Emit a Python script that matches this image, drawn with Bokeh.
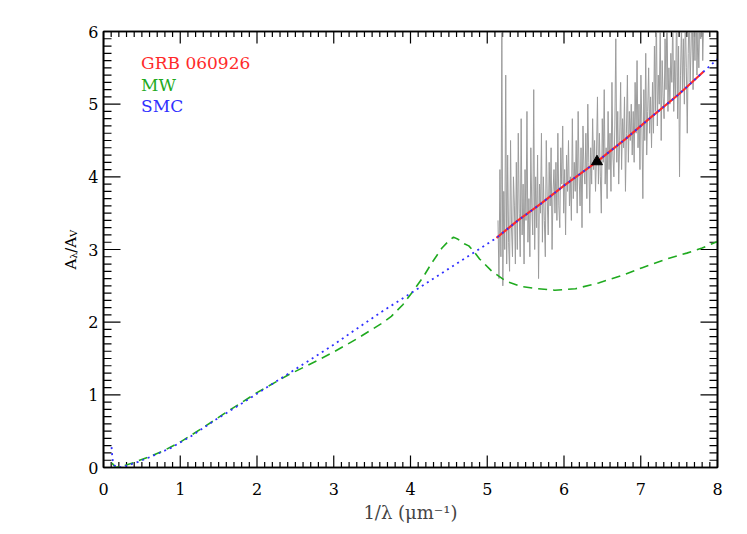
import numpy as np
from bokeh.plotting import figure
from bokeh.layouts import row
from bokeh.models import Range1d, LinearAxis, SingleIntervalTicker, Label, CustomJSTickFormatter
from bokeh.embed import file_html
from bokeh.resources import INLINE

# ---------------- data ----------------
mw_x = [0.11, 0.16, 0.25, 0.4, 0.6, 0.8, 1.0, 1.3, 1.6, 2.0, 2.4, 2.8, 3.0, 3.3, 3.62,
        3.75, 3.9, 4.05, 4.17, 4.28, 4.41, 4.5, 4.56, 4.62, 4.7, 4.76, 4.82, 4.9, 5.06,
        5.25, 5.45, 5.65, 5.88, 6.15, 6.45, 6.75, 7.02, 7.37, 7.6, 7.8, 8.0]
mw_y = [0.06, 0.0, 0.02, 0.07, 0.15, 0.24, 0.35, 0.55, 0.76, 1.03, 1.27, 1.48, 1.59, 1.77, 1.98,
        2.08, 2.24, 2.45, 2.63, 2.82, 3.02, 3.12, 3.17, 3.14, 3.08, 3.05, 2.98, 2.87, 2.70,
        2.56, 2.49, 2.46, 2.44, 2.46, 2.54, 2.64, 2.75, 2.88, 2.95, 3.02, 3.11]

smc_x = [0.105, 0.11, 0.12, 0.14, 0.2, 0.32, 0.46, 0.62, 0.88, 1.14, 1.45, 1.8, 2.14, 2.6,
         3.0, 3.3, 3.62, 4.05, 4.49, 4.8, 5.12, 5.4, 5.7, 6.0, 6.43, 6.8, 7.1, 7.5, 7.82, 8.0]
smc_y = [0.28, 0.2, 0.1, 0.03, 0.0, 0.03, 0.08, 0.15, 0.27, 0.43, 0.65, 0.88, 1.11, 1.42,
         1.69, 1.91, 2.14, 2.43, 2.73, 2.94, 3.16, 3.40, 3.63, 3.88, 4.21, 4.52, 4.79, 5.14, 5.45, 5.62]

fit_x = [5.12, 5.4, 5.7, 6.0, 6.43, 6.8, 7.1, 7.5, 7.82]
fit_y = [3.16, 3.40, 3.63, 3.88, 4.21, 4.52, 4.79, 5.14, 5.45]

grb_x_start = 5.14
grb_x_end = 7.82
grb_y = [
    3.4, 2.6, 4.1, 2.9, 6.0, 2.5, 3.8, 3.0, 5.4, 2.8, 4.3, 3.1, 2.7, 4.5, 3.3, 2.9, 4.0, 3.6, 2.8, 4.2,
    3.0, 4.6, 3.5, 2.9, 4.8, 3.2, 3.9, 2.8, 4.1, 3.4, 4.9, 3.1, 3.7, 2.9, 4.4, 3.6, 3.2, 5.2, 3.0, 4.0,
    3.3, 4.3, 2.6, 3.9, 3.5, 4.6, 3.1, 4.0, 3.4, 2.9, 4.5, 3.7, 3.2, 4.2, 3.6, 4.4, 3.0, 3.8, 4.1, 3.5,
    4.2, 3.4, 4.6, 3.6, 3.3, 4.4, 3.9, 4.7, 3.5, 4.1, 3.2, 4.3, 3.8, 4.5, 3.6, 4.0, 3.4, 4.8, 3.7, 4.2,
    3.8, 4.5, 3.5, 4.9, 4.0, 3.6, 4.4, 3.3, 4.7, 4.1, 3.9, 4.6, 3.7, 5.0, 4.2, 3.5, 4.4, 3.9, 4.8, 4.1,
    4.5, 3.8, 4.3, 5.1, 3.9, 4.6, 4.0, 3.5, 4.8, 4.2, 5.2, 3.9, 4.4, 3.7, 4.9, 4.1, 4.6, 3.8, 5.3, 4.3,
    4.0, 4.7, 5.9, 4.2, 4.9, 3.9, 4.5, 5.3, 4.1, 4.8, 4.4, 5.1, 3.8, 4.6, 5.4, 4.2, 4.9, 4.5, 5.0, 4.3,
    4.9, 4.2, 5.3, 4.6, 5.6, 4.4, 5.0, 4.1, 5.4, 4.7, 3.7, 5.2, 4.5, 5.7, 4.3, 4.9, 5.5, 4.6, 5.1, 4.4,
    5.3, 4.6, 5.8, 4.9, 6.3, 4.7, 5.4, 5.0, 6.1, 4.5, 5.6, 5.1, 4.8, 5.9, 5.2, 6.4, 4.9, 5.5, 5.0, 5.7,
    5.3, 6.2, 4.9, 5.6, 5.1, 6.5, 4.8, 5.8, 4.0, 5.4, 6.1, 5.2, 5.9, 5.0, 6.3, 5.5, 4.6, 5.7, 6.4, 5.3,
    5.8, 6.6, 5.2, 6.1, 5.6, 6.8, 5.4, 6.0, 5.5, 6.3, 5.9, 6.7, 5.6, 6.2,
]
grb_x = np.linspace(grb_x_start, grb_x_end, len(grb_y))

point_x = [6.43]
point_y = [4.21]

legend_texts = ["GRB 060926", "MW", "SMC"]

# ---------------- style / layout ----------------
RED = "#ff2a2a"
GREEN = "#1faa1f"
BLUE = "#3030ff"
FONT = "DejaVu Serif"

X0, X1 = 0, 8
Y0, Y1 = 0, 6
FW, FH = 614, 436
BT, BB = 31, 51
LEFT_W = 82

p = figure(frame_width=FW, frame_height=FH,
           x_range=Range1d(X0, X1), y_range=Range1d(Y0, Y1),
           x_axis_location=None, y_axis_location=None,
           min_border_left=103 - LEFT_W, min_border_top=BT, min_border_right=12, min_border_bottom=BB,
           output_backend="svg", toolbar_location=None)
p.xgrid.visible = False
p.ygrid.visible = False
p.outline_line_color = "black"
p.outline_line_width = 1.6
p.background_fill_color = "white"
p.border_fill_color = "white"


def make_axis(show_labels):
    ax = LinearAxis(ticker=SingleIntervalTicker(interval=1, num_minor_ticks=10))
    ax.axis_line_color = "black"
    ax.axis_line_width = 1.6
    ax.major_tick_in = 0
    ax.major_tick_out = 0
    ax.minor_tick_in = 0
    ax.minor_tick_out = 0
    ax.major_label_text_font = FONT
    ax.major_label_text_font_size = "16px"
    ax.major_label_text_color = "black"
    if not show_labels:
        ax.formatter = CustomJSTickFormatter(code="return ''")
        ax.major_label_standoff = 0
    return ax


bottom = make_axis(True)
bottom.major_label_standoff = 15
bottom.axis_label = "1/λ (μm⁻¹)"
bottom.axis_label_text_font = FONT
bottom.axis_label_text_font_size = "18px"
bottom.axis_label_text_font_style = "normal"
bottom.axis_label_standoff = 4
p.add_layout(bottom, "below")

left = make_axis(True)
left.major_label_standoff = 5
p.add_layout(left, "left")

p.add_layout(make_axis(False), "above")
p.add_layout(make_axis(False), "right")

# inward tick marks on all four sides (IDL style)
px_per_y = FH / (Y1 - Y0)
px_per_x = FW / (X1 - X0)
xmaj = np.arange(X0, X1 + 0.001, 1.0)
xmin = np.array([v for v in np.arange(X0, X1 + 0.001, 0.1) if abs(v - round(v)) > 1e-6])
ymaj = np.arange(Y0, Y1 + 0.001, 1.0)
ymin = np.array([v for v in np.arange(Y0, Y1 + 0.001, 0.1) if abs(v - round(v)) > 1e-6])
XMAJ_L, XMIN_L = 12 / px_per_y, 5.5 / px_per_y
YMAJ_L, YMIN_L = 17 / px_per_x, 8 / px_per_x
tick_kw = dict(line_color="black", line_width=1.2)
for ticks, ln in ((xmaj, XMAJ_L), (xmin, XMIN_L)):
    p.segment(ticks, np.full(len(ticks), Y0), ticks, np.full(len(ticks), Y0 + ln), **tick_kw)
    p.segment(ticks, np.full(len(ticks), Y1), ticks, np.full(len(ticks), Y1 - ln), **tick_kw)
for ticks, ln in ((ymaj, YMAJ_L), (ymin, YMIN_L)):
    p.segment(np.full(len(ticks), X0), ticks, np.full(len(ticks), X0 + ln), ticks, **tick_kw)
    p.segment(np.full(len(ticks), X1), ticks, np.full(len(ticks), X1 - ln), ticks, **tick_kw)

# ---------------- glyphs ----------------
p.line(grb_x, grb_y, line_color="#9c9c9c", line_width=1)
p.line(mw_x, mw_y, line_color=GREEN, line_width=1.6, line_dash="9 6")
p.line(fit_x, fit_y, line_color=RED, line_width=2.2)
p.line(smc_x, smc_y, line_color=BLUE, line_width=1.8, line_dash="2 4")
p.scatter(point_x, point_y, marker="triangle", size=11, color="black")

legend_colors = [RED, GREEN, BLUE]
legend_y = [5.57, 5.27, 4.97]
for t, c, yy in zip(legend_texts, legend_colors, legend_y):
    p.add_layout(Label(x=0.49, y=yy, text=t, text_color=c, text_font=FONT,
                       text_font_size="17px", text_baseline="middle", text_align="left"))

# ---------------- y-axis title panel:  A_lambda / A_V ----------------
ylab = figure(frame_width=LEFT_W, frame_height=FH,
              x_range=Range1d(0, LEFT_W), y_range=Range1d(Y0, Y1),
              x_axis_location=None, y_axis_location=None,
              min_border_left=0, min_border_right=0, min_border_top=BT, min_border_bottom=BB,
              output_backend="svg", toolbar_location=None)
ylab.xgrid.visible = False
ylab.ygrid.visible = False
ylab.outline_line_color = None
ylab.border_fill_color = "white"
ylab.background_fill_color = "white"

center_y = (Y0 + Y1) / 2
base_x = 70
pieces = [("A", 15, 0, -20.0), ("λ", 10, 3, -9.2), ("/", 15, 0, -3.3), ("A", 15, 0, 1.8), ("V", 10, 3, 12.6)]
for txt, fs, dx, off in pieces:
    ylab.add_layout(Label(x=base_x + dx, y=center_y + off / px_per_y, text=txt, angle=np.pi / 2,
                          text_font=FONT, text_font_size=f"{fs}px", text_color="black",
                          text_align="left", text_baseline="alphabetic"))

layout = row(ylab, p)
open("out.html", "w").write(file_html(layout, INLINE))
